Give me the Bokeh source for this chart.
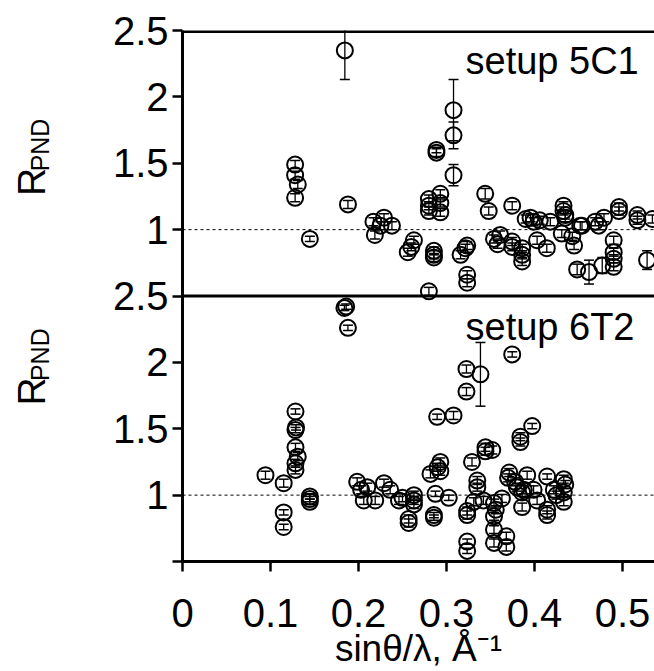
import math
from bokeh.plotting import figure
from bokeh.layouts import row
from bokeh.models import Range1d, FixedTicker, Span, Label, ColumnDataSource
from bokeh.core.properties import value
from bokeh.embed import file_html
from bokeh.resources import INLINE

# ---------------- data: setup 5C1 (upper panel) ----------------
x_5c1 = [0.1845, 0.128, 0.128, 0.131, 0.128, 0.188, 0.1447, 0.217, 0.2186, 0.229,
         0.238, 0.225, 0.256, 0.263, 0.260, 0.308, 0.308, 0.2886, 0.2886, 0.308,
         0.280, 0.280, 0.280, 0.293, 0.293, 0.293, 0.344, 0.348, 0.3747, 0.390,
         0.3955, 0.399, 0.406, 0.418, 0.433, 0.433, 0.435, 0.431, 0.443, 0.445,
         0.454, 0.469, 0.479, 0.473, 0.496, 0.496, 0.517, 0.517, 0.534, 0.2857,
         0.2857, 0.2857, 0.316, 0.3216, 0.3235, 0.3235, 0.3235, 0.280, 0.354, 0.361,
         0.358, 0.3747, 0.3747, 0.386, 0.386, 0.386, 0.403, 0.414, 0.4485, 0.462,
         0.477, 0.490, 0.490, 0.490, 0.490, 0.528, 0.435, 0.452]
r_5c1 = [2.35, 1.49, 1.41, 1.34, 1.24, 1.19, 0.93, 1.06, 0.96, 1.09,
         1.03, 1.03, 0.83, 0.92, 0.87, 1.90, 1.71, 1.58, 1.60, 1.41,
         1.23, 1.18, 1.14, 1.27, 1.20, 1.13, 1.27, 1.14, 1.18, 1.08,
         1.09, 1.06, 1.07, 1.06, 1.18, 1.14, 1.11, 0.97, 0.95, 0.88,
         1.03, 1.06, 1.09, 1.03, 1.14, 1.17, 1.11, 1.07, 1.08, 0.84,
         0.79, 0.81, 0.81, 0.86, 0.88, 0.66, 0.60, 0.535, 0.93, 0.96,
         0.89, 0.91, 0.87, 0.86, 0.81, 0.76, 0.92, 0.86, 0.70, 0.68,
         0.73, 0.92, 0.83, 0.78, 0.72, 0.77, 1.09, 1.03]
e_5c1 = [0.22, 0.03, 0.03, 0.03, 0.03, 0.03, 0.02, 0.03, 0.03, 0.03,
         0.03, 0.03, 0.03, 0.03, 0.03, 0.23, 0.10, 0.03, 0.02, 0.08,
         0.03, 0.03, 0.03, 0.03, 0.03, 0.03, 0.04, 0.03, 0.03, 0.03,
         0.03, 0.03, 0.03, 0.03, 0.03, 0.03, 0.03, 0.03, 0.03, 0.03,
         0.03, 0.03, 0.03, 0.03, 0.03, 0.03, 0.03, 0.03, 0.03, 0.03,
         0.03, 0.03, 0.03, 0.03, 0.03, 0.03, 0.03, 0.03, 0.03, 0.03,
         0.03, 0.03, 0.03, 0.03, 0.03, 0.03, 0.03, 0.03, 0.04, 0.09,
         0.06, 0.03, 0.03, 0.03, 0.03, 0.07, 0.03, 0.03]

# ---------------- data: setup 6T2 (lower panel) ----------------
x_6t2 = [0.186, 0.184, 0.188, 0.1284, 0.129, 0.1284, 0.1284, 0.131, 0.1284, 0.1284,
         0.0943, 0.115, 0.115, 0.115, 0.1447, 0.1447, 0.1447, 0.1985, 0.206, 0.219,
         0.229, 0.236, 0.246, 0.210, 0.203, 0.263, 0.263, 0.263, 0.257, 0.257,
         0.3386, 0.3747, 0.3227, 0.3227, 0.2894, 0.308, 0.3974, 0.384, 0.384, 0.3443,
         0.352, 0.3443, 0.329, 0.2818, 0.293, 0.293, 0.290, 0.335, 0.335, 0.250,
         0.2875, 0.3026, 0.2857, 0.2857, 0.3235, 0.3235, 0.3235, 0.3235, 0.331, 0.342,
         0.354, 0.363, 0.356, 0.354, 0.354, 0.354, 0.368, 0.368, 0.3713, 0.3917,
         0.378, 0.3879, 0.399, 0.386, 0.386, 0.403, 0.4144, 0.4144, 0.4144, 0.422,
         0.425, 0.4333, 0.435, 0.4333, 0.4333, 0.370, 0.380]
r_6t2 = [2.42, 2.41, 2.26, 1.63, 1.51, 1.49, 1.36, 1.29, 1.24, 1.19,
         1.15, 1.09, 0.87, 0.76, 0.97, 0.99, 0.95, 1.10, 0.96, 0.96,
         1.09, 1.04, 0.96, 1.06, 1.04, 1.00, 0.96, 0.93, 0.79, 0.82,
         1.91, 2.06, 1.95, 1.78, 1.59, 1.60, 1.52, 1.44, 1.40, 1.36,
         1.34, 1.33, 1.25, 1.16, 1.25, 1.18, 1.21, 1.11, 1.06, 0.98,
         1.01, 0.98, 0.85, 0.83, 0.88, 0.85, 0.65, 0.58, 0.95, 0.96,
         0.94, 0.975, 0.89, 0.84, 0.74, 0.64, 0.69, 0.61, 1.17, 1.15,
         1.10, 1.04, 1.04, 1.02, 0.91, 0.96, 1.14, 0.89, 0.85, 1.04,
         1.00, 1.12, 1.08, 1.02, 0.95, 1.13, 1.06]
e_6t2 = [0.02, 0.02, 0.02, 0.02, 0.02, 0.02, 0.03, 0.03, 0.03, 0.03,
         0.03, 0.03, 0.02, 0.02, 0.02, 0.02, 0.02, 0.03, 0.03, 0.03,
         0.03, 0.03, 0.03, 0.03, 0.03, 0.03, 0.03, 0.03, 0.03, 0.03,
         0.24, 0.02, 0.03, 0.03, 0.02, 0.03, 0.02, 0.03, 0.03, 0.03,
         0.03, 0.03, 0.03, 0.03, 0.03, 0.03, 0.03, 0.03, 0.03, 0.03,
         0.02, 0.02, 0.02, 0.02, 0.03, 0.03, 0.02, 0.02, 0.03, 0.03,
         0.03, 0.03, 0.03, 0.03, 0.03, 0.03, 0.03, 0.03, 0.03, 0.03,
         0.03, 0.03, 0.03, 0.03, 0.03, 0.03, 0.02, 0.03, 0.03, 0.03,
         0.03, 0.03, 0.03, 0.03, 0.03, 0.03, 0.03]

x_ticks = [0, 0.1, 0.2, 0.3, 0.4, 0.5]
panel_ticks = [0.5, 1, 1.5, 2, 2.5]
panel_labels = ["", "1", "1.5", "2", "2.5"]
panel_names = ["setup 5C1", "setup 6T2"]

FONT = "Liberation Sans"
LEFT_W = 60
H = 671

# --- narrow strip on the left carrying the rotated R_PND titles ---
side = figure(width=LEFT_W, height=H, output_backend="svg", toolbar_location=None,
              x_range=Range1d(0, LEFT_W), y_range=Range1d(H, 0),
              x_axis_type=None, y_axis_type=None,
              min_border_left=0, min_border_right=0, min_border_top=0, min_border_bottom=0)
side.outline_line_color = None
side.xgrid.visible = False
side.ygrid.visible = False
side.text(x=[31, 31], y=[209, 474], text=["R", "R"], angle=math.pi / 2,
          text_align="left", text_baseline="middle", text_font=value(FONT),
          text_font_size="39px", text_color="black")
side.text(x=[39, 39], y=[178, 443], text=["PND", "PND"], angle=math.pi / 2,
          text_align="left", text_baseline="middle", text_font=value(FONT),
          text_font_size="25px", text_color="black")

# --- main plot ---
p = figure(width=654 - LEFT_W, height=H, output_backend="svg", toolbar_location=None,
           x_range=Range1d(0, 0.5364), y_range=Range1d(0.5, 4.5),
           min_border_left=182 - LEFT_W, min_border_right=0, min_border_top=30,
           min_border_bottom=109)
# lower panel uses default y range (0.5..2.5 in lower half); upper panel uses "top"
p.extra_y_ranges = {"top": Range1d(-1.5, 2.5)}
p.outline_line_color = None
p.xgrid.visible = False
p.ygrid.visible = False

for ax in (p.xaxis[0], p.yaxis[0]):
    ax.axis_line_width = 3
    ax.axis_line_color = "black"
    ax.major_tick_line_width = 2.5
    ax.major_tick_line_color = "black"
    ax.major_tick_in = 0
    ax.major_tick_out = 10
    ax.minor_tick_line_color = None
    ax.major_label_text_font = FONT
    ax.major_label_text_font_size = "40px"
    ax.major_label_text_color = "black"

p.xaxis.ticker = FixedTicker(ticks=x_ticks)
p.xaxis.major_label_overrides = {0: "0"}
p.xaxis.major_label_standoff = 27
p.xaxis.axis_label = "sinθ/λ, Å\u207b\u00b9"
p.xaxis.axis_label_text_font = FONT
p.xaxis.axis_label_text_font_style = "normal"
p.xaxis.axis_label_text_font_size = "37px"
p.xaxis.axis_label_text_color = "black"
p.xaxis.axis_label_standoff = -2

all_ticks = panel_ticks + [t + 2 for t in panel_ticks[1:]]
overrides = {}
for t, lab in zip(panel_ticks, panel_labels):
    overrides[float(t)] = lab
for t, lab in zip(panel_ticks[1:], panel_labels[1:]):
    overrides[float(t + 2)] = lab
p.yaxis.ticker = FixedTicker(ticks=all_ticks)
p.yaxis.major_label_overrides = overrides
p.yaxis.major_label_standoff = 4

p.add_layout(Span(location=4.5, dimension="width", line_color="black", line_width=5))
p.add_layout(Span(location=2.5, dimension="width", line_color="black", line_width=3))
p.add_layout(Span(location=1, dimension="width", line_color="black", line_width=1,
                  line_dash="3 3"))
p.add_layout(Span(location=1, dimension="width", line_color="black", line_width=1,
                  line_dash="3 3", y_range_name="top"))


def draw(xs, rs, es, rng):
    src = ColumnDataSource(dict(x=xs, r=rs,
                                lo=[r - e for r, e in zip(rs, es)],
                                hi=[r + e for r, e in zip(rs, es)]))
    kw = {} if rng is None else {"y_range_name": rng}
    p.segment(x0="x", y0="lo", x1="x", y1="hi", source=src, line_color="black",
              line_width=1.3, **kw)
    p.scatter(x="x", y="lo", source=src, marker="dash", size=10, line_color="black",
              line_width=1.5, **kw)
    p.scatter(x="x", y="hi", source=src, marker="dash", size=10, line_color="black",
              line_width=1.5, **kw)
    p.scatter(x="x", y="r", source=src, marker="circle", size=16, fill_color=None,
              line_color="black", line_width=2, **kw)


draw(x_5c1, r_5c1, e_5c1, "top")
draw(x_6t2, r_6t2, e_6t2, None)

# panel titles (inside the frame, canvas units of the main plot)
for name, ty in zip(panel_names, (60, 326)):
    p.add_layout(Label(x=465 - LEFT_W, y=ty, x_units="canvas", y_units="canvas",
                       text=name, text_font=FONT, text_font_size="38px",
                       text_color="black", text_baseline="middle", text_align="left"))

layout = row(side, p)
open("out.html", "w").write(file_html(layout, INLINE))
